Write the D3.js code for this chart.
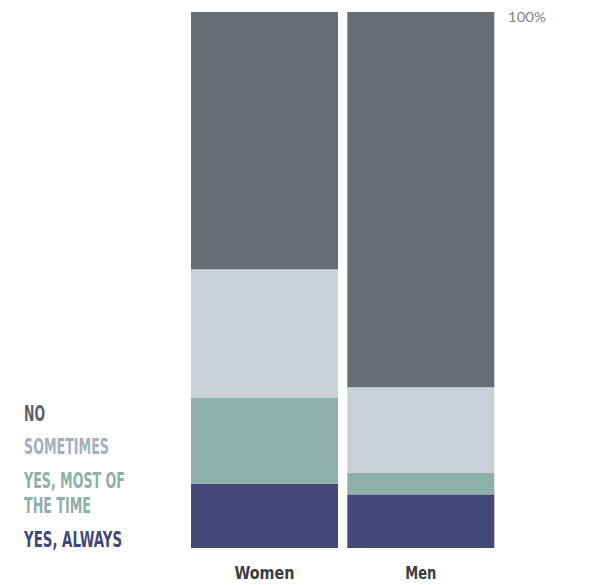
<!DOCTYPE html>
<html><head><meta charset="utf-8">
<script src="https://cdn.jsdelivr.net/npm/d3@7"></script>
<style>body{margin:0;background:#fff;}svg{display:block;}</style>
</head><body>
<svg id="c" width="592" height="585"></svg>
<script>
const categories = ["Women", "Men"];
const seriesNames = ["Yes, always", "Yes, most of the time", "Sometimes", "No"];
const yesAlways = [12, 10];
const yesMost = [16, 4];
const sometimes = [24, 16];
const no = [48, 70];
const topTick = ["100%"];

const colors = ["#434878", "#8db0a9", "#c9d0d7", "#676b72"];
const textColors = ["#434878", "#8db0a9", "#a3b1bd", "#5e6268"];
const svg = d3.select("#c");
const condensed = "'DejaVu Sans Condensed', 'DejaVu Sans', sans-serif";

const rows = categories.map((c, i) => ({cat: c, "Yes, always": yesAlways[i], "Yes, most of the time": yesMost[i], "Sometimes": sometimes[i], "No": no[i]}));
const stacked = d3.stack().keys(seriesNames)(rows);

const x = d3.scaleBand().domain(categories).range([191, 494.3]).paddingInner(0.06).paddingOuter(0);
const y = d3.scaleLinear().domain([0, 100]).range([548, 12]);

svg.append("g").selectAll("g").data(stacked).join("g")
  .attr("fill", (d, i) => colors[i])
  .selectAll("rect").data(d => d).join("rect")
  .attr("x", d => x(d.data.cat))
  .attr("width", x.bandwidth())
  .attr("y", d => y(d[1]))
  .attr("height", d => y(d[0]) - y(d[1]));

const catWidths = {"Women": 60, "Men": 31};
svg.append("g").selectAll("text").data(categories).join("text")
  .attr("x", d => x(d) + x.bandwidth() / 2)
  .attr("y", 579)
  .attr("text-anchor", "middle")
  .attr("font-family", condensed)
  .attr("font-weight", "bold")
  .attr("font-size", 18)
  .attr("fill", "#3a3d42")
  .attr("textLength", d => catWidths[d])
  .attr("lengthAdjust", "spacingAndGlyphs")
  .text(d => d);

svg.append("text").attr("x", 508).attr("y", 22)
  .attr("font-family", "Lato, 'Open Sans', sans-serif")
  .attr("font-weight", 400)
  .attr("font-size", 14).attr("fill", "#7f8185")
  .attr("textLength", 38).attr("lengthAdjust", "spacingAndGlyphs")
  .text(topTick[0]);

const legend = [
  {lines: ["NO"], y: [421], w: [21], c: textColors[3]},
  {lines: ["SOMETIMES"], y: [454], w: [85], c: textColors[2]},
  {lines: ["YES, MOST OF", "THE TIME"], y: [488, 513], w: [101, 67], c: textColors[1]},
  {lines: ["YES, ALWAYS"], y: [547], w: [98], c: textColors[0]}
];
const lg = svg.append("g");
legend.forEach(l => {
  l.lines.forEach((t, j) => {
    lg.append("text").attr("x", 24).attr("y", l.y[j])
      .attr("font-family", condensed)
      .attr("font-weight", "bold").attr("font-size", 22)
      .attr("textLength", l.w[j]).attr("lengthAdjust", "spacingAndGlyphs")
      .attr("fill", l.c).text(t);
  });
});
</script>
</body></html>
